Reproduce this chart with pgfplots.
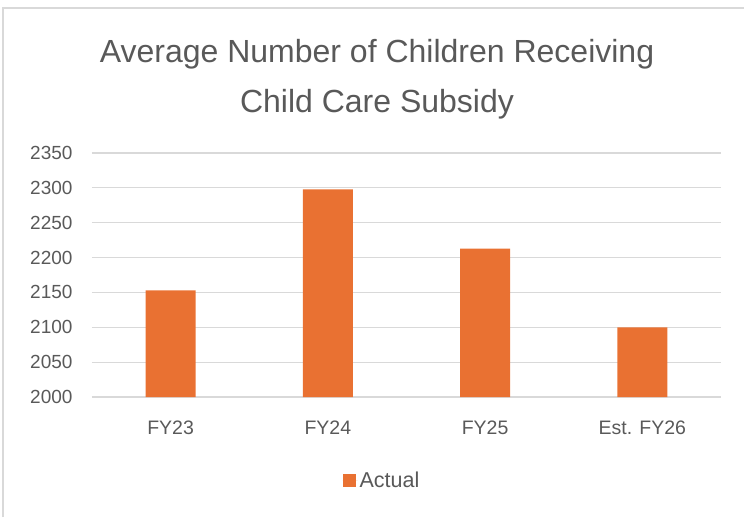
\documentclass[border=0pt]{standalone}
\usepackage{pgfplots}
\pgfplotsset{compat=1.18}
\usepackage{fontspec}
\setmainfont{Liberation Sans}
\definecolor{barc}{HTML}{E97132}
\definecolor{txt}{HTML}{595959}
\definecolor{gridc}{HTML}{D9D9D9}
\begin{document}
\begin{tikzpicture}[x=1pt,y=1pt]
\path[use as bounding box] (0,0) rectangle (744,517);
\draw[gridc, line width=1.5pt] (3,0) -- (3,509) -- (744,509);
\begin{axis}[
  at={(92pt,120pt)}, anchor=south west, scale only axis,
  width=629pt, height=244pt,
  xmin=-0.5, xmax=3.5, ymin=2000, ymax=2350,
  ytick={2000,2050,...,2350},
  xtick={0,1,2,3}, xticklabels={FY23,FY24,FY25,Est. FY26},
  ymajorgrids, major grid style={gridc, line width=1.2pt},
  axis line style={draw=none}, major tick style={draw=none},
  /pgf/number format/assume math mode=true,
  /pgf/number format/1000 sep={},
  yticklabel style={font=\fontsize{19}{19}\selectfont, text=txt, xshift=-16pt},
  xticklabel style={font=\fontsize{19.5}{19.5}\selectfont, text=txt, anchor=base, yshift=-37pt},
  legend style={at={(0.461,-0.344)}, anchor=center, draw=none,
    font=\fontsize{21.5}{21.5}\selectfont, text=txt},
  clip=false,
]
\addplot[ybar, bar width=50pt, bar shift=0pt, fill=barc, draw=none,
  legend image code/.code={\fill[barc] (0pt,-6.5pt) rectangle (13pt,6.5pt); \path (0pt,0pt) -- (15pt,0pt);}]
  coordinates {(0,2153) (1,2298) (2,2213) (3,2100)};
\addlegendentry{Actual}
\end{axis}
\node[txt, font=\fontsize{32}{32}\selectfont, anchor=base] at (377,454.3) {Average Number of Children Receiving};
\node[txt, font=\fontsize{32}{32}\selectfont, anchor=base] at (377,404.3) {Child Care Subsidy};
\end{tikzpicture}
\end{document}
